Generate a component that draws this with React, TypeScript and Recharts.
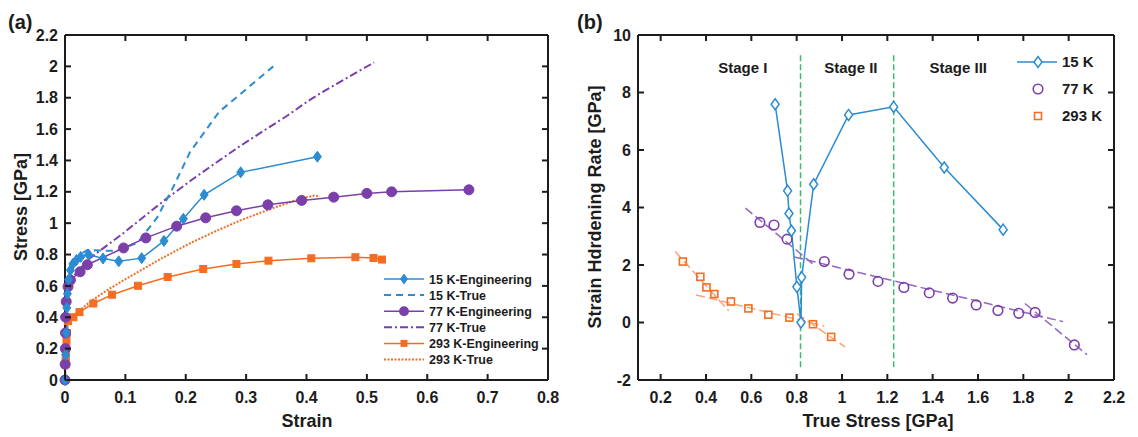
import React from 'react';
import { LineChart, Line, XAxis, YAxis, ReferenceLine, ReferenceDot } from 'recharts';

// ---------- Panel (a) data ----------
const eng15K = [
  { x: 0, y: 0 }, { x: 0.001, y: 0.16 }, { x: 0.002, y: 0.3 }, { x: 0.003, y: 0.46 }, { x: 0.004, y: 0.55 },
  { x: 0.006, y: 0.64 }, { x: 0.009, y: 0.7 }, { x: 0.013, y: 0.74 }, { x: 0.019, y: 0.765 }, { x: 0.026, y: 0.785 },
  { x: 0.039, y: 0.8 }, { x: 0.063, y: 0.775 }, { x: 0.089, y: 0.757 }, { x: 0.127, y: 0.777 }, { x: 0.164, y: 0.887 },
  { x: 0.196, y: 1.028 }, { x: 0.2305, y: 1.181 }, { x: 0.291, y: 1.324 }, { x: 0.418, y: 1.424 },
];
const true15K = [
  { x: 0, y: 0 }, { x: 0.003, y: 0.46 }, { x: 0.006, y: 0.645 }, { x: 0.013, y: 0.75 }, { x: 0.026, y: 0.805 },
  { x: 0.038, y: 0.83 }, { x: 0.061, y: 0.825 }, { x: 0.085, y: 0.823 }, { x: 0.12, y: 0.875 }, { x: 0.152, y: 1.032 },
  { x: 0.179, y: 1.228 }, { x: 0.207, y: 1.453 }, { x: 0.255, y: 1.709 }, { x: 0.345, y: 2.0 },
];
const eng77K = [
  { x: 0, y: 0 }, { x: 0.0003, y: 0.1 }, { x: 0.0005, y: 0.2 }, { x: 0.0008, y: 0.3 }, { x: 0.001, y: 0.4 },
  { x: 0.002, y: 0.5 }, { x: 0.005, y: 0.595 }, { x: 0.009, y: 0.637 }, { x: 0.025, y: 0.69 }, { x: 0.037, y: 0.735 },
  { x: 0.097, y: 0.842 }, { x: 0.134, y: 0.906 }, { x: 0.185, y: 0.981 }, { x: 0.233, y: 1.034 }, { x: 0.284, y: 1.079 },
  { x: 0.336, y: 1.117 }, { x: 0.392, y: 1.145 }, { x: 0.445, y: 1.166 }, { x: 0.5, y: 1.19 }, { x: 0.541, y: 1.2 },
  { x: 0.669, y: 1.213 },
];
const true77K = [
  { x: 0, y: 0 }, { x: 0.001, y: 0.4 }, { x: 0.002, y: 0.5 }, { x: 0.005, y: 0.598 }, { x: 0.009, y: 0.643 },
  { x: 0.025, y: 0.707 }, { x: 0.036, y: 0.762 }, { x: 0.0925, y: 0.924 }, { x: 0.126, y: 1.027 }, { x: 0.17, y: 1.162 },
  { x: 0.2095, y: 1.275 }, { x: 0.25, y: 1.385 }, { x: 0.29, y: 1.492 }, { x: 0.331, y: 1.594 }, { x: 0.368, y: 1.685 },
  { x: 0.405, y: 1.785 }, { x: 0.432, y: 1.849 }, { x: 0.512, y: 2.025 },
];
const eng293K = [
  { x: 0, y: 0 }, { x: 0.0008, y: 0.1 }, { x: 0.001, y: 0.12 }, { x: 0.0015, y: 0.15 }, { x: 0.002, y: 0.2 },
  { x: 0.0025, y: 0.25 }, { x: 0.003, y: 0.3 }, { x: 0.005, y: 0.375 }, { x: 0.014, y: 0.4 }, { x: 0.024, y: 0.433 },
  { x: 0.047, y: 0.488 }, { x: 0.078, y: 0.544 }, { x: 0.121, y: 0.601 }, { x: 0.17, y: 0.657 }, { x: 0.229, y: 0.708 },
  { x: 0.284, y: 0.74 }, { x: 0.337, y: 0.761 }, { x: 0.408, y: 0.776 }, { x: 0.481, y: 0.783 }, { x: 0.511, y: 0.778 },
  { x: 0.525, y: 0.768 },
];
const true293K = [
  { x: 0, y: 0 }, { x: 0.003, y: 0.3 }, { x: 0.005, y: 0.377 }, { x: 0.014, y: 0.406 }, { x: 0.0237, y: 0.443 },
  { x: 0.0459, y: 0.511 }, { x: 0.0751, y: 0.586 }, { x: 0.1142, y: 0.674 }, { x: 0.157, y: 0.769 }, { x: 0.206, y: 0.87 },
  { x: 0.25, y: 0.95 }, { x: 0.29, y: 1.017 }, { x: 0.342, y: 1.093 }, { x: 0.393, y: 1.16 }, { x: 0.413, y: 1.176 },
  { x: 0.422, y: 1.171 },
];
const strainTicks = [0, 0.1, 0.2, 0.3, 0.4, 0.5, 0.6, 0.7, 0.8];
const stressTicks = [0, 0.2, 0.4, 0.6, 0.8, 1, 1.2, 1.4, 1.6, 1.8, 2, 2.2];

// ---------- Panel (b) data ----------
const rate15K = [
  { x: 0.705, y: 7.59 }, { x: 0.76, y: 4.58 }, { x: 0.766, y: 3.79 }, { x: 0.777, y: 3.19 }, { x: 0.801, y: 1.24 },
  { x: 0.819, y: 0.0 }, { x: 0.822, y: 1.57 }, { x: 0.875, y: 4.81 }, { x: 1.029, y: 7.22 }, { x: 1.228, y: 7.5 },
  { x: 1.451, y: 5.39 }, { x: 1.711, y: 3.23 },
];
const rate77K = [
  { x: 0.638, y: 3.48 }, { x: 0.7, y: 3.39 }, { x: 0.758, y: 2.9 }, { x: 0.922, y: 2.12 }, { x: 1.031, y: 1.68 },
  { x: 1.159, y: 1.43 }, { x: 1.273, y: 1.22 }, { x: 1.385, y: 1.03 }, { x: 1.488, y: 0.85 }, { x: 1.592, y: 0.61 },
  { x: 1.688, y: 0.42 }, { x: 1.78, y: 0.32 }, { x: 1.852, y: 0.35 }, { x: 2.025, y: -0.78 },
];
const rate293K = [
  { x: 0.298, y: 2.12 }, { x: 0.375, y: 1.59 }, { x: 0.402, y: 1.22 }, { x: 0.437, y: 0.99 }, { x: 0.51, y: 0.73 },
  { x: 0.587, y: 0.49 }, { x: 0.675, y: 0.27 }, { x: 0.768, y: 0.17 }, { x: 0.872, y: -0.06 }, { x: 0.952, y: -0.5 },
];
const fit77A = [{ x: 0.574, y: 3.98 }, { x: 0.882, y: 1.97 }];
const fit77B = [{ x: 0.789, y: 2.28 }, { x: 1.975, y: 0.03 }];
const fit77C = [{ x: 1.807, y: 0.66 }, { x: 2.081, y: -1.12 }];
const fit293A = [{ x: 0.264, y: 2.47 }, { x: 0.5, y: 0.41 }];
const fit293B = [{ x: 0.356, y: 0.96 }, { x: 0.922, y: -0.12 }];
const fit293C = [{ x: 0.801, y: 0.31 }, { x: 1.013, y: -0.85 }];
const stageBounds = [0.817, 1.228];
const stageLabels = [
  { x: 0.562, y: 8.85, text: 'Stage I' },
  { x: 1.039, y: 8.85, text: 'Stage II' },
  { x: 1.513, y: 8.85, text: 'Stage III' },
];
const trueStressTicks = [0.2, 0.4, 0.6, 0.8, 1, 1.2, 1.4, 1.6, 1.8, 2, 2.2];
const rateTicks = [-2, 0, 2, 4, 6, 8, 10];

// ---------- styles ----------
const BLUE = '#2b8bd3';
const PURPLE = '#7a3fa9';
const ORANGE = '#f46d22';
const GREEN = '#3dba72';
const FIT_PURPLE = '#9467c2';
const FIT_ORANGE = '#f7a47c';
const AXIS = '#1c1c1c';
const FONT = '"Liberation Sans", Arial, sans-serif';
const TL = 6; // inward tick length

type Side = 'bottom' | 'left' | 'top' | 'right';
// Custom tick: draws an inward tick mark and (optionally) the label
const makeTick = (side: Side, margin: number, label: boolean) => (props: any) => {
  const { x, y, payload, index } = props;
  const v = payload ? payload.value : '';
  let line: any = null;
  let text: any = null;
  if (side === 'bottom') {
    const ay = y - margin;
    line = <line x1={x} x2={x} y1={ay} y2={ay - TL} stroke={AXIS} strokeWidth={2} />;
    if (label) text = <text x={x} y={y} dy="0.71em" textAnchor="middle">{String(v)}</text>;
  } else if (side === 'left') {
    const ax = x + margin;
    line = <line x1={ax} x2={ax + TL} y1={y} y2={y} stroke={AXIS} strokeWidth={2} />;
    if (label) text = <text x={x} y={y} dy="0.355em" textAnchor="end">{String(v)}</text>;
  } else if (side === 'top') {
    const ay = y + margin;
    line = <line x1={x} x2={x} y1={ay} y2={ay + TL} stroke={AXIS} strokeWidth={2} />;
  } else {
    const ax = x - margin;
    line = <line x1={ax} x2={ax - TL} y1={y} y2={y} stroke={AXIS} strokeWidth={2} />;
  }
  return (
    <g key={`t${side}${index}`} fontFamily={FONT} fontSize={16} fontWeight={700} fill="#1c1c1c">
      {line}
      {text}
    </g>
  );
};

const diamondDot = (fill: string, stroke: string, w: number, h: number, sw: number) => (props: any) => {
  const { cx, cy, index } = props;
  if (cx == null || cy == null) return <g key={`d${index}`} />;
  return (
    <path key={`d${index}`} d={`M${cx},${cy - h / 2}L${cx + w / 2},${cy}L${cx},${cy + h / 2}L${cx - w / 2},${cy}Z`}
      fill={fill} stroke={stroke} strokeWidth={sw} />
  );
};
const circleDot = (fill: string, stroke: string, r: number, sw: number) => (props: any) => {
  const { cx, cy, index } = props;
  if (cx == null || cy == null) return <g key={`c${index}`} />;
  return <circle key={`c${index}`} cx={cx} cy={cy} r={r} fill={fill} stroke={stroke} strokeWidth={sw} />;
};
const squareDot = (fill: string, stroke: string, s: number, sw: number) => (props: any) => {
  const { cx, cy, index } = props;
  if (cx == null || cy == null) return <g key={`s${index}`} />;
  return <rect key={`s${index}`} x={cx - s / 2} y={cy - s / 2} width={s} height={s} fill={fill} stroke={stroke} strokeWidth={sw} />;
};

const axes = (xDomain: number[], xTicks: number[], yDomain: number[], yTicks: number[], yWidth: number) => [
  <XAxis key="xb" type="number" dataKey="x" domain={xDomain} ticks={xTicks} interval={0} height={30}
    tickSize={0} tickMargin={12} tickLine={false} tick={makeTick('bottom', 12, true)} stroke={AXIS} strokeWidth={2} />,
  <YAxis key="yl" type="number" dataKey="y" domain={yDomain} ticks={yTicks} interval={0} width={yWidth}
    tickSize={0} tickMargin={7} tickLine={false} tick={makeTick('left', 7, true)} stroke={AXIS} strokeWidth={2} />,
  <XAxis key="xt" xAxisId="top" orientation="top" type="number" dataKey="x" domain={xDomain} ticks={xTicks} interval={0}
    height={1} tickSize={0} tickMargin={0} tickLine={false} tick={makeTick('top', 0, false)} stroke={AXIS} strokeWidth={2} allowDataOverflow />,
  <YAxis key="yr" yAxisId="right" orientation="right" type="number" dataKey="y" domain={yDomain} ticks={yTicks} interval={0}
    width={1} tickSize={0} tickMargin={0} tickLine={false} tick={makeTick('right', 0, false)} stroke={AXIS} strokeWidth={2} allowDataOverflow />,
];

const legendA = [
  { name: '15 K-Engineering', color: BLUE, dash: undefined, w: 1.5, marker: 'diamond' },
  { name: '15 K-True', color: BLUE, dash: '7 5', w: 2, marker: '' },
  { name: '77 K-Engineering', color: PURPLE, dash: undefined, w: 1.5, marker: 'circle' },
  { name: '77 K-True', color: PURPLE, dash: '8 3 2 3', w: 2, marker: '' },
  { name: '293 K-Engineering', color: ORANGE, dash: undefined, w: 1.5, marker: 'square' },
  { name: '293 K-True', color: ORANGE, dash: '2 1.5', w: 2, marker: '' },
];

export default function App() {
  return (
    <div style={{ position: 'absolute', left: 0, top: 0, width: 1138, height: 437, background: '#fff', fontFamily: FONT }}>
      {/* Panel (a) */}
      <div style={{ position: 'absolute', left: 0, top: 0 }}>
        <LineChart width={560} height={437} margin={{ top: 34, right: 11, bottom: 27, left: 0 }}>
          {axes([0, 0.8], strainTicks, [0, 2.2], stressTicks, 65)}
          <Line data={true293K} dataKey="y" stroke={ORANGE} strokeWidth={2} strokeDasharray="2 1.5" dot={false} isAnimationActive={false} />
          <Line data={true77K} dataKey="y" stroke={PURPLE} strokeWidth={2} strokeDasharray="8 3 2 3" dot={false} isAnimationActive={false} />
          <Line data={true15K} dataKey="y" stroke={BLUE} strokeWidth={2} strokeDasharray="7 5" dot={false} isAnimationActive={false} />
          <Line data={eng293K} dataKey="y" stroke={ORANGE} strokeWidth={1.5} dot={squareDot(ORANGE, ORANGE, 7, 1)} isAnimationActive={false} />
          <Line data={eng77K} dataKey="y" stroke={PURPLE} strokeWidth={1.5} dot={circleDot(PURPLE, PURPLE, 5, 1)} isAnimationActive={false} />
          <Line data={eng15K} dataKey="y" stroke={BLUE} strokeWidth={1.5} dot={diamondDot(BLUE, BLUE, 8, 11, 1)} isAnimationActive={false} />
        </LineChart>
      </div>

      {/* Panel (b) */}
      <div style={{ position: 'absolute', left: 560, top: 0 }}>
        <LineChart width={578} height={437} margin={{ top: 34, right: 23, bottom: 27, left: 0 }}>
          {axes([0.1, 2.2], trueStressTicks, [-2, 10], rateTicks, 78)}
          {stageBounds.map((b) => (
            <ReferenceLine key={b} segment={[{ x: b, y: 9.3 }, { x: b, y: -1.62 }]} stroke={GREEN} strokeWidth={1.5} strokeDasharray="6 3" />
          ))}
          {stageLabels.map((s) => (
            <ReferenceDot key={s.text} x={s.x} y={s.y} r={0} stroke="none" fill="none"
              label={{ value: s.text, position: 'center', fill: '#1c1c1c', fontSize: 15, fontWeight: 700, fontFamily: FONT }} />
          ))}
          <Line data={fit293A} dataKey="y" stroke={FIT_ORANGE} strokeWidth={1.5} strokeDasharray="9 4" dot={false} isAnimationActive={false} />
          <Line data={fit293B} dataKey="y" stroke={FIT_ORANGE} strokeWidth={1.5} strokeDasharray="9 4" dot={false} isAnimationActive={false} />
          <Line data={fit293C} dataKey="y" stroke={FIT_ORANGE} strokeWidth={1.5} strokeDasharray="9 4" dot={false} isAnimationActive={false} />
          <Line data={fit77A} dataKey="y" stroke={FIT_PURPLE} strokeWidth={1.5} strokeDasharray="9 4" dot={false} isAnimationActive={false} />
          <Line data={fit77B} dataKey="y" stroke={FIT_PURPLE} strokeWidth={1.5} strokeDasharray="9 4" dot={false} isAnimationActive={false} />
          <Line data={fit77C} dataKey="y" stroke={FIT_PURPLE} strokeWidth={1.5} strokeDasharray="9 4" dot={false} isAnimationActive={false} />
          <Line data={rate293K} dataKey="y" stroke="none" dot={squareDot('none', ORANGE, 7, 1.6)} isAnimationActive={false} />
          <Line data={rate77K} dataKey="y" stroke="none" dot={circleDot('none', PURPLE, 4.8, 1.6)} isAnimationActive={false} />
          <Line data={rate15K} dataKey="y" stroke={BLUE} strokeWidth={1.5} dot={diamondDot('#fff', BLUE, 8, 11, 1.5)} isAnimationActive={false} />
        </LineChart>
      </div>

      {/* Titles and legends */}
      <svg width={1138} height={437} style={{ position: 'absolute', left: 0, top: 0, pointerEvents: 'none' }}>
        <g fontFamily={FONT} fontWeight={700} fill="#1c1c1c">
          <text x={8} y={29} fontSize={20}>(a)</text>
          <text x={577} y={29} fontSize={20}>(b)</text>
          <text x={307} y={427} fontSize={18} textAnchor="middle">Strain</text>
          <text x={878} y={427} fontSize={18} textAnchor="middle">True Stress [GPa]</text>
          <text transform="translate(27,207) rotate(-90)" fontSize={18} textAnchor="middle">Stress [GPa]</text>
          <text transform="translate(601,207) rotate(-90)" fontSize={18} textAnchor="middle">Strain Hdrdening Rate [GPa]</text>
        </g>
        {legendA.map((it, i) => {
          const cy = 279 + i * 16.1;
          return (
            <g key={it.name}>
              <line x1={384} x2={424} y1={cy} y2={cy} stroke={it.color} strokeWidth={it.w} strokeDasharray={it.dash} />
              {it.marker === 'diamond' && <path d={`M404,${cy - 5.5}L408,${cy}L404,${cy + 5.5}L400,${cy}Z`} fill={it.color} />}
              {it.marker === 'circle' && <circle cx={404} cy={cy} r={5} fill={it.color} />}
              {it.marker === 'square' && <rect x={400.5} y={cy - 3.5} width={7} height={7} fill={it.color} />}
              <text x={429} y={cy + 4.5} fontSize={12.5} fontWeight={700} fontFamily={FONT} fill="#1c1c1c">{it.name}</text>
            </g>
          );
        })}
        <g>
          <line x1={1017} x2={1057} y1={62} y2={62} stroke={BLUE} strokeWidth={1.5} />
          <path d="M1038,56.5L1042,62L1038,67.5L1034,62Z" fill="#fff" stroke={BLUE} strokeWidth={1.5} />
          <circle cx={1038} cy={89} r={4.8} fill="none" stroke={PURPLE} strokeWidth={1.6} />
          <rect x={1034.5} y={112.5} width={7} height={7} fill="none" stroke={ORANGE} strokeWidth={1.6} />
          <g fontFamily={FONT} fontWeight={700} fontSize={15} fill="#1c1c1c">
            <text x={1062} y={67}>15 K</text>
            <text x={1062} y={94}>77 K</text>
            <text x={1062} y={121}>293 K</text>
          </g>
        </g>
      </svg>
    </div>
  );
}
